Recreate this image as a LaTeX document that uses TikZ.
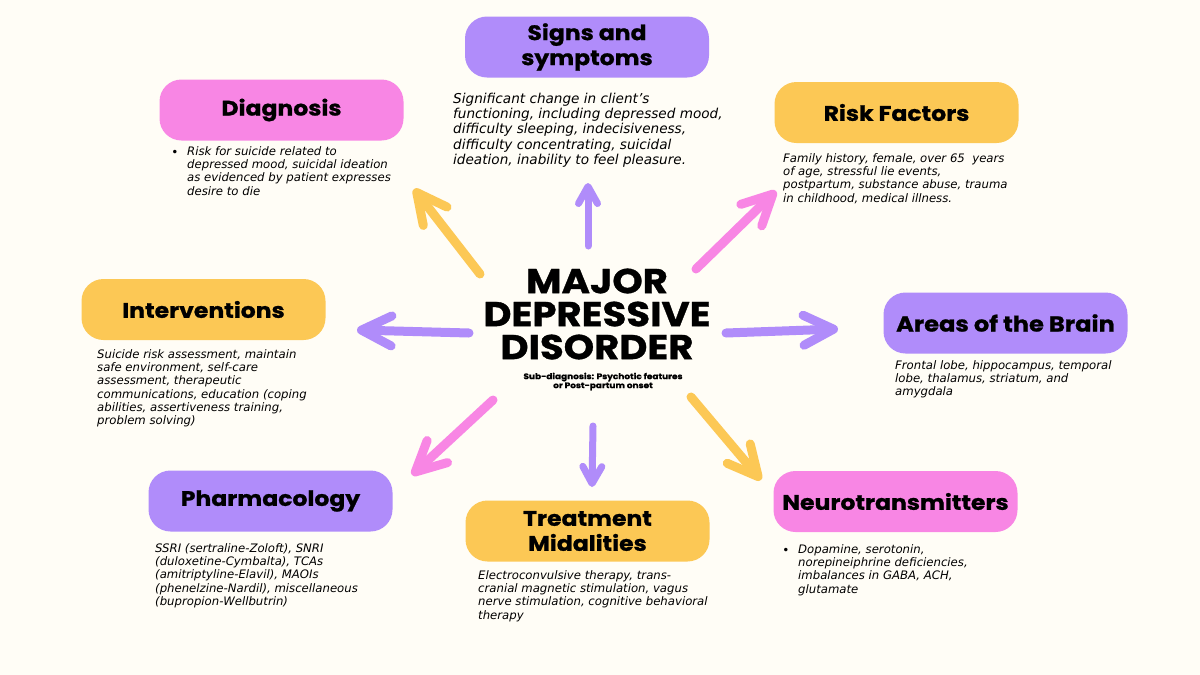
\documentclass[tikz,border=0pt]{standalone}
\usepackage{fontspec}
\setmainfont{DejaVu Sans}
\newfontfamily\titlefont{Poppins}[BoldFeatures={FakeBold=1}, FakeStretch=1.12]
\usetikzlibrary{arrows.meta}
\definecolor{bgc}{HTML}{FFFDF6}
\definecolor{pinkc}{HTML}{F886E4}
\definecolor{purc}{HTML}{B08CFA}
\definecolor{yelc}{HTML}{FCC855}
\begin{document}
\begin{tikzpicture}[x=1pt,y=-1pt,
  box/.style={rounded corners=22pt, inner sep=0pt, minimum width=244pt, minimum height=61pt,
    font=\titlefont\bfseries\fontsize{21}{25}\selectfont, align=center},
  body/.style={anchor=north west, inner sep=0pt, align=left,
    font=\itshape\fontsize{11.7}{13.2}\selectfont},
  bul/.style={inner sep=0pt, font=\fontsize{12}{12}\selectfont},
  bigarr/.style={line width=9pt, line cap=round,
    -{Straight Barb[length=30pt,width=30pt,round]}},
  smallarr/.style={line width=7pt, line cap=round,
    -{Straight Barb[length=17pt,width=19pt,round]}}]
\fill[bgc] (0,0) rectangle (1200,675);
\useasboundingbox (0,0) rectangle (1200,675);

% boxes
\node[box, fill=pinkc] (diag) at (281.5,110) {Diagnosis};
\node[box, fill=purc] (signs) at (587,47) {Signs and\\symptoms};
\node[box, fill=yelc] (risk) at (896.5,112.5) {Risk Factors};
\node[box, fill=yelc] (interv) at (203.5,309.5) {Interventions};
\node[box, fill=purc] (brain) at (1005.5,323) {\fontsize{21.5}{25}\selectfont Areas of the Brain};
\node[box, fill=purc] (pharm) at (270.5,501) {Pharmacology};
\node[box, fill=yelc] (treat) at (587.5,531) {Treatment\\Midalities};
\node[box, fill=pinkc] (neuro) at (895.5,501.5) {Neurotransmitters};

% centre
\node[inner sep=0pt, align=center, font=\titlefont\bfseries\fontsize{34.5}{33}\selectfont] (mdd) at (597,314) {MAJOR\\DEPRESSIVE\\DISORDER};
\node[inner sep=0pt, align=center, font=\titlefont\bfseries\fontsize{8}{9}\selectfont] (sub) at (603,381.5) {Sub-diagnosis: Psychotic features\\or Post-partum onset};

% body texts
\node[bul] (diagb) at (175,153) {\textbullet};
\node[body] (diagt) at (187,146.5) {Risk for suicide related to\\depressed mood, suicidal ideation\\as evidenced by patient expresses\\desire to die};
\node[body, font=\itshape\fontsize{13.6}{15.4}\selectfont] (signst) at (453,92.5) {Significant change in client's\\functioning, including depressed mood,\\difficulty sleeping, indecisiveness,\\difficulty concentrating, suicidal\\ideation, inability to feel pleasure.};
\node[body] (riskt) at (783,153.5) {Family history, female, over 65\ \ years\\of age, stressful lie events,\\postpartum, substance abuse, trauma\\in childhood, medical illness.};
\node[body] (intervt) at (97,349.5) {Suicide risk assessment, maintain\\safe environment, self-care\\assessment, therapeutic\\communications, education (coping\\abilities, assertiveness training,\\problem solving)};
\node[body] (braint) at (895,360.5) {Frontal lobe, hippocampus, temporal\\lobe, thalamus, striatum, and\\amygdala};
\node[body] (pharmt) at (155,543.5) {SSRI (sertraline-Zoloft), SNRI\\(duloxetine-Cymbalta), TCAs\\(amitriptyline-Elavil), MAOIs\\(phenelzine-Nardil), miscellaneous\\(bupropion-Wellbutrin)};
\node[body] (treatt) at (478,570.5) {Electroconvulsive therapy, trans-\\cranial magnetic stimulation, vagus\\nerve stimulation, cognitive behavioral\\therapy};
\node[bul] (neurob) at (786,551) {\textbullet};
\node[body] (neurot) at (798,544.5) {Dopamine, serotonin,\\norepineiphrine deficiencies,\\imbalances in GABA, ACH,\\glutamate};

% arrow end points
\coordinate (a1s) at (480,274); \coordinate (a1e) at (414,189);
\coordinate (a2s) at (588,246); \coordinate (a2e) at (588,183);
\coordinate (a3s) at (696,269); \coordinate (a3e) at (776,191);
\coordinate (a4s) at (469,333); \coordinate (a4e) at (357,330);
\coordinate (a5s) at (726,333); \coordinate (a5e) at (838,329);
\coordinate (a6s) at (493,400); \coordinate (a6e) at (412,475);
\coordinate (a7s) at (593,426); \coordinate (a7e) at (592,487);
\coordinate (a8s) at (691,397); \coordinate (a8e) at (761,480);

\draw[bigarr, yelc] (a1s) -- (a1e);
\draw[smallarr, purc] (a2s) -- (a2e);
\draw[bigarr, pinkc] (a3s) -- (a3e);
\draw[bigarr, purc] (a4s) -- (a4e);
\draw[bigarr, purc] (a5s) -- (a5e);
\draw[bigarr, pinkc] (a6s) -- (a6e);
\draw[smallarr, purc] (a7s) -- (a7e);
\draw[bigarr, yelc] (a8s) -- (a8e);
\end{tikzpicture}
\end{document}
